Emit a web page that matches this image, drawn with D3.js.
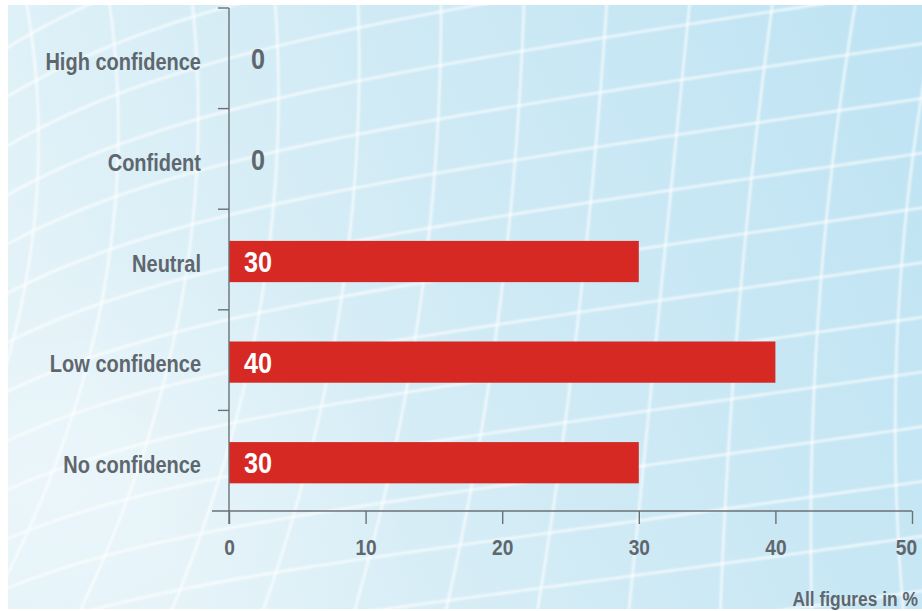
<!DOCTYPE html>
<html>
<head>
<meta charset="utf-8">
<script src="https://cdn.jsdelivr.net/npm/d3@7"></script>
<style>
  html, body { margin: 0; padding: 0; background: #fff; }
  svg { display: block; }
  .lbl { font-family: "Liberation Sans", Arial, sans-serif; font-weight: bold; }
</style>
</head>
<body>
<div id="chart"></div>
<script>
// chart data
var categories = ["High confidence", "Confident", "Neutral", "Low confidence", "No confidence"];
var values = [0, 0, 30, 40, 30];
var xTicks = [0, 10, 20, 30, 40, 50];
var note = "All figures in %";

var W = 922, H = 611;
var textGrey = "#5f676e", axisGrey = "#6b7176";
var narrow = " scale(0.87,1)"; // fake a condensed face

var svg = d3.select("#chart").append("svg")
    .attr("width", W)
    .attr("height", H);

var defs = svg.append("defs");
var grad = defs.append("linearGradient").attr("id", "bg")
    .attr("x1", "0").attr("y1", "0.3").attr("x2", "1").attr("y2", "0");
grad.append("stop").attr("offset", "0").attr("stop-color", "#e2f2f8");
grad.append("stop").attr("offset", "0.45").attr("stop-color", "#cfeaf5");
grad.append("stop").attr("offset", "1").attr("stop-color", "#bee3f3");
var glow = defs.append("radialGradient").attr("id", "glow")
    .attr("cx", "0.05").attr("cy", "0.8").attr("r", "0.4");
glow.append("stop").attr("offset", "0").attr("stop-color", "#ffffff").attr("stop-opacity", 0.3);
glow.append("stop").attr("offset", "1").attr("stop-color", "#ffffff").attr("stop-opacity", 0);
defs.append("clipPath").attr("id", "bgclip")
  .append("rect").attr("x", 8).attr("y", 5).attr("width", W - 8).attr("height", H - 7);
defs.append("filter").attr("id", "soft")
  .append("feGaussianBlur").attr("stdDeviation", 0.9);

// background panel with a warped white mesh
var bg = svg.append("g").attr("clip-path", "url(#bgclip)");
bg.append("rect").attr("x", 0).attr("y", 0).attr("width", W).attr("height", H).attr("fill", "url(#bg)");
bg.append("rect").attr("x", 0).attr("y", 0).attr("width", W).attr("height", H).attr("fill", "url(#glow)");

var mesh = bg.append("g")
    .attr("fill", "none")
    .attr("stroke", "#ffffff")
    .attr("stroke-opacity", 0.75)
    .attr("stroke-width", 2.4)
    .attr("filter", "url(#soft)");
var line = d3.line().curve(d3.curveBasis);
var ys = d3.range(-20, H + 40, 20);
d3.range(-1, 13).forEach(function(u) {
  var xt = 690 + (u - 8) * 83, tilt = 0.1 + 0.035 * (u - 8);
  mesh.append("path").attr("d", line(ys.map(function(y) {
    return [xt - tilt * y - 0.00008 * y * y * (8 - u), y];
  })));
});
var xs = d3.range(-20, W + 40, 20);
d3.range(-4, 16).forEach(function(v) {
  mesh.append("path").attr("d", line(xs.map(function(x) {
    return [x, 178 + v * 55 - 0.146 * x + 70 * Math.exp(-x / 170) - v * 6 * Math.exp(-x / 300)];
  })));
});

// scales
var x = d3.scaleLinear().domain([0, 50]).range([229, 912]);
var y = d3.scaleBand().domain(categories).range([8, 511]).padding(0);
var step = y.bandwidth();

// bars
svg.append("g").selectAll("rect")
  .data(values)
  .join("rect")
    .attr("x", x(0))
    .attr("y", function(d, i) { return y(categories[i]) + step * 0.315; })
    .attr("width", function(d) { return x(d) - x(0); })
    .attr("height", step * 0.41)
    .attr("fill", "#d62923")
    .attr("display", function(d) { return d > 0 ? null : "none"; });

// y axis: line and band boundary ticks
var yAxis = svg.append("g").attr("stroke", axisGrey).attr("stroke-width", 1.4);
yAxis.append("line").attr("x1", x(0)).attr("x2", x(0)).attr("y1", y.range()[0]).attr("y2", y.range()[1] + 13);
yAxis.selectAll("line.tk")
  .data(categories)
  .join("line")
    .attr("class", "tk")
    .attr("x1", x(0) - 11).attr("x2", x(0))
    .attr("y1", function(d) { return y(d); })
    .attr("y2", function(d) { return y(d); });

// category labels
svg.append("g").selectAll("text")
  .data(categories)
  .join("text")
    .attr("class", "lbl")
    .attr("transform", function(d) { return "translate(201," + (y(d) + step / 2 + 12) + ")" + narrow; })
    .attr("text-anchor", "end")
    .attr("fill", textGrey)
    .style("font-size", "23px")
    .text(function(d) { return d; });

// value labels
svg.append("g").selectAll("text")
  .data(values)
  .join("text")
    .attr("class", "lbl")
    .attr("transform", function(d, i) {
      var tx = d > 0 ? x(0) + 15 : x(0) + 22;
      return "translate(" + tx + "," + (y(categories[i]) + step / 2 + (d > 0 ? 12.5 : 11)) + ")" + narrow;
    })
    .attr("fill", function(d) { return d > 0 ? "#ffffff" : textGrey; })
    .style("font-size", "29px")
    .text(function(d) { return d; });

// x axis
var xAxis = svg.append("g")
    .attr("transform", "translate(0," + y.range()[1] + ")")
    .call(d3.axisBottom(x).tickValues(xTicks).tickSize(13).tickPadding(15).tickFormat(d3.format("d")));
xAxis.select(".domain").remove();
xAxis.selectAll(".tick line").attr("stroke", axisGrey).attr("stroke-width", 1.4);
xAxis.selectAll(".tick text")
    .attr("class", "lbl")
    .attr("fill", textGrey)
    .attr("transform", function(d, i) { return (i === xTicks.length - 1 ? "translate(-6,0)" : "") + narrow; })
    .style("font-size", "22px");
xAxis.append("line")
    .attr("x1", 212).attr("x2", x(50))
    .attr("stroke", axisGrey).attr("stroke-width", 1.4);

svg.append("text")
    .attr("class", "lbl")
    .attr("transform", "translate(918,606)" + narrow)
    .attr("text-anchor", "end")
    .attr("fill", textGrey)
    .style("font-size", "20px")
    .text(note);
</script>
</body>
</html>
